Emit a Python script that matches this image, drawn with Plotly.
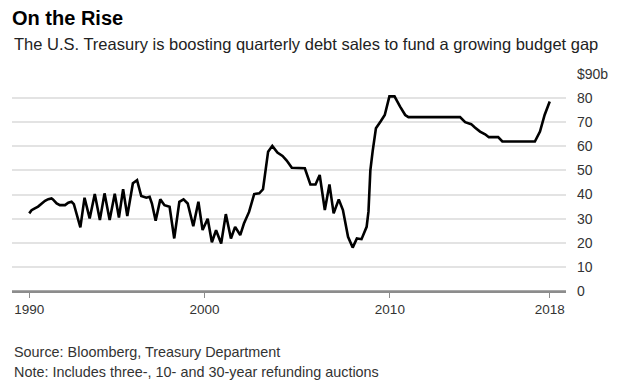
import plotly.graph_objects as go

# quarters since start of 1990 (auction index) and auction size in $ billions
quarter_idx = [0, 0.5, 1.2, 1.9, 2.7, 3.4, 4.1, 4.8, 5.1, 5.9, 6.6, 7.7, 8.4, 9.1, 9.6,
               11.0, 11.9, 13.0, 14.1, 15.2, 16.2, 17.3, 18.4, 19.3, 20.2, 21.1, 22.3,
               23.2, 24.1, 25.2, 25.9, 26.4, 27.2, 28.2, 29.1, 30.2, 31.2, 32.3, 33.2,
               34.1, 35.3, 36.4, 37.3, 38.4, 39.3, 40.2, 41.3, 42.3, 43.4, 44.3, 45.4,
               46.2, 47.3, 48.4, 49.5, 50.3, 51.4, 52.3, 53.4, 54.5, 55.4, 56.5, 59.3,
               60.5, 61.6, 62.5, 63.6, 64.6, 65.5, 66.6, 67.5, 68.6, 69.6, 70.5, 71.5,
               72.6, 73.0, 73.4, 73.9, 74.6, 75.6, 76.5, 77.5, 78.6, 79.8, 80.9, 81.6,
               92.7, 93.8, 95.1, 95.9, 97.0, 98.1, 98.9, 100.9, 101.8, 108.8, 109.9,
               110.9, 112.0]
debt_sales = [32.2, 33.5, 34.3, 35, 36.3, 37.4, 38.1, 38.4, 38, 36.3, 35.6, 35.6, 36.6,
              37, 36, 26.4, 38.7, 30.1, 40.2, 29.4, 40.5, 29.4, 40.3, 30.5, 42.2, 31.1,
              44.7, 46, 39.4, 38.7, 39.1, 36.3, 29.1, 38, 35.6, 34.9, 21.8, 37, 38, 36.3,
              26.9, 37, 25.3, 30, 20.2, 25.2, 19.7, 31.9, 21.8, 26.6, 23.2, 28, 32.8,
              40.2, 40.5, 42.2, 57.8, 60.2, 57.4, 56, 54.1, 51.1, 50.9, 44.2, 44.2, 48.1,
              33.6, 44.2, 32.2, 38, 33.6, 22.5, 18, 21.8, 21.5, 26.6, 33, 50, 58, 67.5,
              70.3, 73, 80.7, 80.7, 76.5, 73, 72.1, 72.1, 70, 69.2, 67.8, 66.1, 65, 63.8,
              63.8, 62, 62, 66.1, 73, 78.6]

x_tick_pos = [0, 37.7, 77.6, 112]
x_tick_text = ["1990", "2000", "2010", "2018"]
y_tick_vals = [0, 10, 20, 30, 40, 50, 60, 70, 80, 90]
y_tick_text = ["0", "10", "20", "30", "40", "50", "60", "70", "80", "$90b"]

FONT = "Liberation Sans, Arial, sans-serif"

fig = go.Figure()
fig.add_trace(go.Scatter(
    x=quarter_idx, y=debt_sales, mode="lines",
    line=dict(color="#000000", width=2.6, shape="linear"),
    hoverinfo="skip", showlegend=False,
))

fig.update_layout(
    width=620, height=386,
    margin=dict(l=12, r=52, t=74, b=95, pad=0),
    paper_bgcolor="white", plot_bgcolor="white",
    font=dict(family=FONT, color="#333333", size=12),
    xaxis=dict(
        range=[-3.71, 115.5],
        tickvals=x_tick_pos, ticktext=x_tick_text,
        showgrid=False, zeroline=False,
        showline=True, linecolor="#8c8c8c", linewidth=1.5,
        ticks="outside", ticklen=5, tickcolor="#8c8c8c", tickwidth=1.2,
        tickfont=dict(size=13.5, color="#333333", family=FONT),
        fixedrange=True,
    ),
    yaxis=dict(
        range=[0, 90],
        side="right",
        tickvals=y_tick_vals, ticktext=y_tick_text,
        showgrid=True, gridcolor="#e3e3e3", gridwidth=1.6,
        zeroline=False, showline=False, ticks="",
        ticklabelstandoff=10,
        tickfont=dict(size=14, color="#333333", family=FONT),
        fixedrange=True,
    ),
    annotations=[
        dict(text="<b>On the Rise</b>", xref="paper", yref="paper",
             x=-0.004, y=1.258, xanchor="left", yanchor="middle", showarrow=False,
             font=dict(size=20, color="#000000", family=FONT)),
        dict(text="The U.S. Treasury is boosting quarterly debt sales to fund a growing budget gap",
             xref="paper", yref="paper", x=0.0, y=1.136, xanchor="left", yanchor="middle",
             showarrow=False, font=dict(size=16.5, color="#222222", family=FONT)),
        dict(text="Source: Bloomberg, Treasury Department", xref="paper", yref="paper",
             x=0.0, y=-0.282, xanchor="left", yanchor="middle", showarrow=False,
             font=dict(size=14.4, color="#333333", family=FONT)),
        dict(text="Note: Includes three-, 10- and 30-year refunding auctions", xref="paper",
             yref="paper", x=0.0, y=-0.375, xanchor="left", yanchor="middle", showarrow=False,
             font=dict(size=14.4, color="#333333", family=FONT)),
    ],
)

fig.add_shape(type="line", xref="x", yref="y", x0=-3.71, x1=115.5, y0=0, y1=0,
              line=dict(color="#8c8c8c", width=1.5), layer="above")

fig.write_html("out.html", config={"displayModeBar": False},
               post_script="document.body.style.margin='0px';document.body.style.padding='0px';")
